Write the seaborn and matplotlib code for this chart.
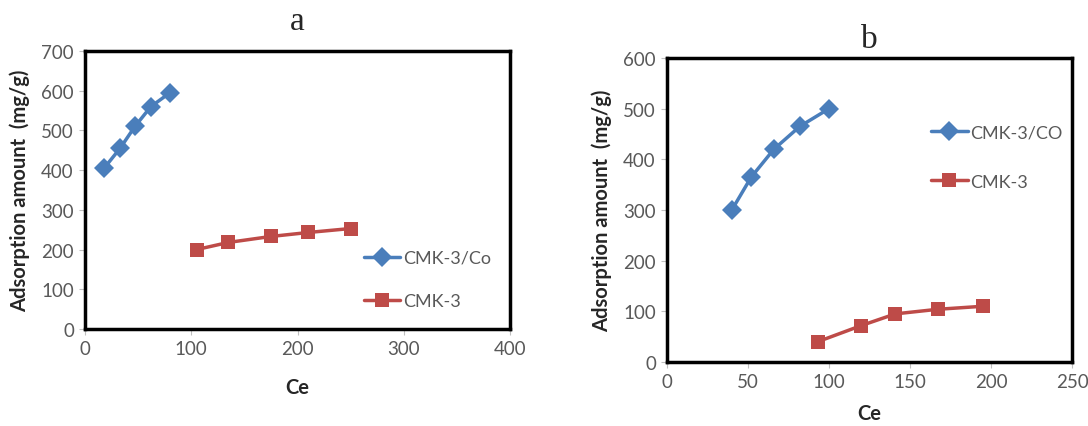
import matplotlib
matplotlib.use("Agg")
import matplotlib.pyplot as plt
import seaborn as sns
import pandas as pd

# ---- data ----
a_co_x = [18, 33, 47, 62, 80]
a_co_y = [405, 455, 510, 560, 595]
a_cmk_x = [105, 135, 175, 210, 250]
a_cmk_y = [200, 218, 233, 243, 253]

b_co_x = [40, 52, 66, 82, 100]
b_co_y = [300, 365, 420, 465, 500]
b_cmk_x = [93, 120, 141, 167, 195]
b_cmk_y = [40, 72, 95, 104, 110]

BLUE = "#4a7ebb"
RED = "#be4b48"
GRAY = "#595959"

sns.set_style("white")
plt.rcParams["font.family"] = ["Lato", "DejaVu Sans"]

fig = plt.figure(figsize=(10.88, 4.27), dpi=100)
W, H = 1088, 427


def box(l, t, r, b):
    return [l / W, 1 - b / H, (r - l) / W, (b - t) / H]


def panel(ax, co_x, co_y, cmk_x, cmk_y, co_name, xmax, xstep, ymax, title,
          title_pad, xlab_pad, leg_pos, leg_space):
    df = pd.concat([
        pd.DataFrame({"Ce": co_x, "q": co_y, "s": co_name}),
        pd.DataFrame({"Ce": cmk_x, "q": cmk_y, "s": "CMK-3"}),
    ])
    sns.lineplot(data=df, x="Ce", y="q", hue="s", style="s",
                 markers={co_name: "D", "CMK-3": "s"}, dashes=False,
                 palette={co_name: BLUE, "CMK-3": RED}, linewidth=2.5,
                 markersize=10, markeredgewidth=0, ax=ax, legend=True)
    ax.set_xlim(0, xmax)
    ax.set_ylim(0, ymax)
    ax.set_xticks(range(0, xmax + 1, xstep))
    ax.set_yticks(range(0, ymax + 1, 100))
    for s in ax.spines.values():
        s.set_linewidth(2.5)
        s.set_color("black")
    ax.tick_params(axis="both", length=4, width=0.8, color="#bfbfbf",
                   labelcolor=GRAY, labelsize=13.5, direction="out",
                   bottom=True, left=True, pad=4)
    ax.set_xlabel("Ce", fontsize=14.5, fontweight="bold", labelpad=xlab_pad)
    ax.set_ylabel("Adsorption amount  (mg/g)", fontsize=14.5, fontweight="bold",
                  labelpad=8)
    ax.set_title(title, fontsize=24, family="Liberation Serif", pad=title_pad)
    leg = ax.legend(loc="center left", bbox_to_anchor=leg_pos, frameon=False,
                    fontsize=13, handlelength=2.0, handletextpad=0.15,
                    labelspacing=leg_space, borderaxespad=0)
    for t in leg.get_texts():
        t.set_color(GRAY)


ax_a = fig.add_axes(box(85, 52, 510, 330))
panel(ax_a, a_co_x, a_co_y, a_cmk_x, a_cmk_y, "CMK-3/Co", 400, 100, 700, "a",
      16, 14, (0.64, 0.178), 1.5)

ax_b = fig.add_axes(box(667, 59, 1072, 363))
panel(ax_b, b_co_x, b_co_y, b_cmk_x, b_cmk_y, "CMK-3/CO", 250, 50, 600, "b",
      8, 9, (0.635, 0.674), 1.85)

fig.savefig("out.png", dpi=100)
